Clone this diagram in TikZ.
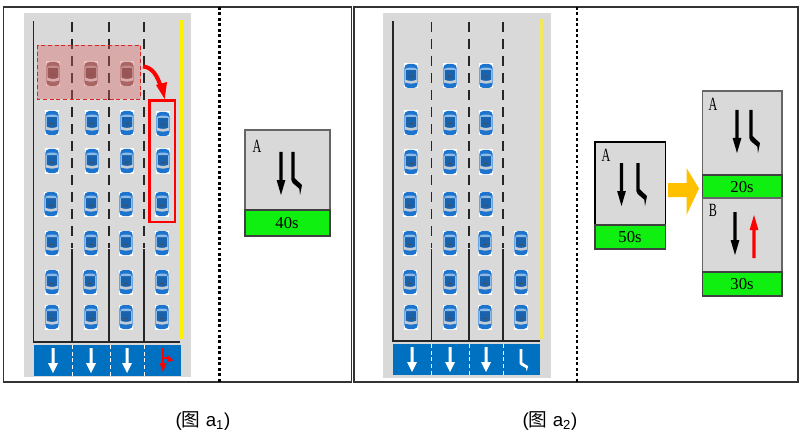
\documentclass[tikz,border=0pt]{standalone}
\usepackage{fontspec}
\usepackage{xcolor}
\newfontfamily\capfont{Liberation Sans}
\newfontfamily\capcjk{Noto Sans CJK SC}
\newfontfamily\signfont{Liberation Serif}
\definecolor{roadgray}{HTML}{D9D9D9}
\definecolor{signblue}{HTML}{0070C0}
\definecolor{signgreen}{HTML}{10F010}
\definecolor{bandorange}{HTML}{FFC000}
\definecolor{paleyellow}{HTML}{F2E85C}
\definecolor{patchred}{HTML}{D96464}
\definecolor{carbody}{HTML}{1C74CE}
\definecolor{carglass}{HTML}{1A62AC}
\definecolor{carside}{HTML}{8DBBE6}
\definecolor{carband}{HTML}{C4CCD4}
\definecolor{carback}{HTML}{FFFFFF}
\tikzset{
    frame/.style={draw=black!80, line width=.9pt},
    lanedash/.style={draw=black!85, line width=1.2pt, dash pattern=on 7.5pt off 5.25pt},
    laneline/.style={draw=black!85, line width=1.2pt},
    divider/.style={draw=black, line width=1.6pt, dash pattern=on 2.2pt off 1.9pt},
    signbox/.style={fill=roadgray, draw=black!60, line width=.8pt},
    timebox/.style={fill=signgreen, draw=black!75, line width=.8pt},
    signtext/.style={font=\signfont\fontsize{12.5}{14}\selectfont, inner sep=0pt},
    phasetext/.style={font=\signfont\fontsize{14}{16}\selectfont, inner sep=0pt, xscale=.65},
    captext/.style={font=\capfont\fontsize{14}{16}\selectfont, inner sep=0pt},
    car/.pic={
        \fill[carback] (-7.3,-12.5) rectangle (7.3,12.5);
        \fill[carbody, rounded corners=3pt] (-6.7,-12) rectangle (6.7,12);
        \fill[carside] (-6.4,-6.5) rectangle (6.4,7);
        \fill[carglass] (-5.2,-6.5) rectangle (5.2,5);
        \fill[carband] (-6,3.5) .. controls (-2,5.4) and (2,5.4) .. (6,3.5) -- (6,6) .. controls (2,8.2) and (-2,8.2) .. (-6,6) -- cycle;
        \fill[carside] (-5.4,-7.5) .. controls (-2,-8.8) and (2,-8.8) .. (5.4,-7.5) -- (5.2,-6) -- (-5.2,-6) -- cycle;
        \fill[black!70] (-2.4,.5) rectangle (2.4,1.4);
    },
    straight/.pic={
        \path[pic actions] (-1.6,0) -- (1.6,0) -- (1.6,28) -- (4.4,28) -- (0,43) -- (-4.4,28) -- (-1.6,28) -- cycle;
    },
    bend/.pic={
        \path[pic actions] (-1.7,0) -- (1.7,0) -- (1.7,26) -- (5.7,30) -- (9,33) -- (7,43) -- (6.3,36.7) -- (-.3,31) -- (-1.7,28) -- cycle;
    },
    lanearrow/.pic={
        \path[pic actions] (-1.5,0) -- (1.5,0) -- (1.5,15) -- (5,15) -- (0,25) -- (-5,15) -- (-1.5,15) -- cycle;
    },
}

\begin{document}
\begin{tikzpicture}[x=.75pt, y=-.75pt]
    \useasboundingbox (0,0) rectangle (802,442);

    % outer frames
    \draw[frame] (3.5,7) rectangle (351.5,382);
    \draw[frame] (354,7) rectangle (798,382);
    \draw[divider] (219.5,7)--(219.5,382);
    \draw[divider] (577,7)--(577,382);

    % left road
    \fill[roadgray] (24,13) rectangle (191,377);
    \draw[laneline] (33.5,21)--(33.5,342)--(180,342);
    \draw[lanedash] (72,22)--(72,248);
    \draw[lanedash] (109,22)--(109,248);
    \draw[lanedash] (144,22)--(144,248);
    \draw[laneline] (72,249)--(72,342);
    \draw[laneline] (109,249)--(109,342);
    \draw[laneline] (144,249)--(144,342);
    \fill[yellow] (180,20) rectangle (183,339);
    \fill[signblue] (34,345) rectangle (180.5,376);
    \draw[white, densely dashed, line width=.5pt] (72.5,345)--(72.5,376);
    \draw[white, densely dashed, line width=.5pt] (110,345)--(110,376);
    \draw[white, densely dashed, line width=.5pt] (144.5,345)--(144.5,376);
    \pic[fill=white] at (53,348) {lanearrow};
    \pic[fill=white] at (91,348) {lanearrow};
    \pic[fill=white] at (127,348) {lanearrow};
    \draw[red, line width=2pt] (163,348)--(163,365);
    \fill[red] (159.5,363)--(166.5,363)--(163,372)--cycle;
    \draw[red, line width=1.5pt] (163,358)--(168,358);
    \fill[red] (167,354.5)--(173.5,360.5)--(167,362)--cycle;

    \pic at (52,123) {car};
    \pic at (92,123) {car};
    \pic at (127,123) {car};
    \pic at (163,124) {car};
    \pic at (52,161) {car};
    \pic at (92,161) {car};
    \pic at (127,161) {car};
    \pic at (163,161) {car};
    \pic at (51,204) {car};
    \pic at (91,204) {car};
    \pic at (126,204) {car};
    \pic at (162,204) {car};
    \pic at (52,243) {car};
    \pic at (91,243) {car};
    \pic at (126,243) {car};
    \pic at (162,243) {car};
    \pic at (52,282) {car};
    \pic at (90,282) {car};
    \pic at (126,282) {car};
    \pic at (162,282) {car};
    \pic at (52,317) {car};
    \pic at (91,317) {car};
    \pic at (126,317) {car};
    \pic at (162,317) {car};

    % cars under the red patch
    \begin{scope}
        \colorlet{carbody}{red!25!black!60!white}
        \colorlet{carglass}{red!20!black!70!white}
        \colorlet{carside}{red!15!black!35!white}
        \colorlet{carband}{red!10!black!15!white}
        \colorlet{carback}{white}
        \pic at (53,74) {car};
        \pic at (91,74) {car};
        \pic at (127,74) {car};
    \end{scope}
    \fill[patchred, fill opacity=.4] (37,45) rectangle (140.5,99);
    \draw[red!70!gray, densely dashed, line width=.5pt] (37,45) rectangle (140.5,99);

    \draw[red, line width=1.6pt] (149.5,100.5) rectangle (175,222);
    \draw[red, line width=3pt] (143,66.5) .. controls (152,67) and (158,76) .. (161,88);
    \fill[red] (156,85)--(167,82)--(164.7,99)--cycle;

    \draw[signbox] (245,130) rectangle (330,210);
    \draw[timebox] (245,210) rectangle (330,236);
    \node[phasetext] (phaseA) at (257,146) {A};
    \node[signtext] (time40) at (287,223) {40s};
    \pic[fill=black] at (281,152) {straight};
    \pic[fill=black] at (293,152) {bend};

    % right road
    \fill[roadgray] (383,13) rectangle (551,378);
    \draw[laneline] (393,21)--(393,341)--(540,341);
    \draw[lanedash] (431.5,22)--(431.5,248);
    \draw[lanedash] (469,22)--(469,248);
    \draw[lanedash] (503,22)--(503,248);
    \draw[laneline] (431.5,249)--(431.5,341);
    \draw[laneline] (469,249)--(469,341);
    \draw[laneline] (503,249)--(503,341);
    \fill[paleyellow] (539.5,19) rectangle (543,339);
    \fill[signblue] (393,344) rectangle (539.5,375);
    \draw[white, densely dashed, line width=.5pt] (431.5,344)--(431.5,375);
    \draw[white, densely dashed, line width=.5pt] (469,344)--(469,375);
    \draw[white, densely dashed, line width=.5pt] (503.5,344)--(503.5,375);
    \pic[fill=white] at (412,347) {lanearrow};
    \pic[fill=white] at (450,347) {lanearrow};
    \pic[fill=white] at (486,347) {lanearrow};
    \pic[fill=white, xscale=.8, yscale=.52] at (521,349) {bend};

    \pic at (411,76) {car};
    \pic at (450,76) {car};
    \pic at (486,76) {car};
    \pic at (411,123) {car};
    \pic at (450,123) {car};
    \pic at (486,123) {car};
    \pic at (411,162) {car};
    \pic at (450,162) {car};
    \pic at (486,162) {car};
    \pic at (410,204) {car};
    \pic at (450,204) {car};
    \pic at (486,204) {car};
    \pic at (410,243) {car};
    \pic at (450,243) {car};
    \pic at (485,243) {car};
    \pic at (521,243) {car};
    \pic at (410,282) {car};
    \pic at (450,282) {car};
    \pic at (485,282) {car};
    \pic at (521,282) {car};
    \pic at (411,317) {car};
    \pic at (450,317) {car};
    \pic at (485,317) {car};
    \pic at (521,317) {car};

    % signal phases
    \draw[signbox, draw=black] (595,142) rectangle (665.5,225);
    \draw[timebox] (595,225) rectangle (665.5,249);
    \node[phasetext] (phaseAold) at (606,155) {A};
    \node[signtext] (time50) at (630,237) {50s};
    \pic[fill=black] at (621.5,163) {straight};
    \pic[fill=black] at (638,163) {bend};

    \fill[bandorange] (668,183)--(686.5,183)--(686.5,168)--(699,188.5)--(686.5,215)--(686.5,197)--(668,197)--cycle;

    \draw[signbox] (702.5,91) rectangle (782,175);
    \draw[timebox] (702.5,175) rectangle (782,198);
    \draw[signbox] (702.5,198) rectangle (782,272);
    \draw[timebox] (702.5,272) rectangle (782,296);
    \node[phasetext] (phaseAnew) at (713,104) {A};
    \node[phasetext] (phaseB) at (713,210) {B};
    \node[signtext] (time20) at (742,187) {20s};
    \node[signtext] (time30) at (742,284) {30s};
    \pic[fill=black] at (737,110) {straight};
    \pic[fill=black] at (751,110) {bend};
    \pic[fill=black] at (735,212) {straight};
    \pic[fill=red, yscale=-1] at (754,258) {straight};

    \node[captext] (capA) at (203,421) {({\capcjk 图} a\textsubscript{1})};
    \node[captext] (capB) at (550,421) {({\capcjk 图} a\textsubscript{2})};
\end{tikzpicture}
\end{document}
